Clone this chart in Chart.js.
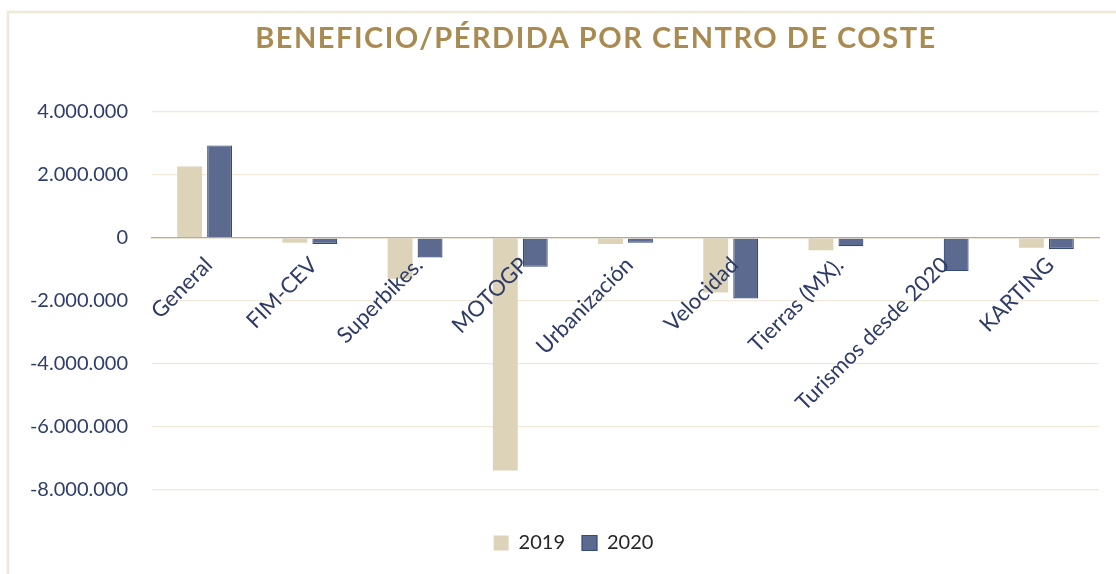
<!DOCTYPE html>
<html>
<head>
<meta charset="utf-8">
<script src="https://cdn.jsdelivr.net/npm/chart.js@4"></script>
<style>
  html, body { margin: 0; padding: 0; background: #ffffff; }
  canvas { display: block; }
</style>
</head>
<body>
<canvas id="c" width="1116" height="574"></canvas>
<script>
const categories = ['General', 'FIM-CEV', 'Superbikes.', 'MOTOGP', 'Urbanización', 'Velocidad', 'Tierras (MX).', 'Turismos desde 2020', 'KARTING'];
const seriesNames = ['2019', '2020'];
const values2019 = [2270000, -150000, -1290000, -7380000, -190000, -1730000, -390000, 0, -310000];
const values2020 = [2940000, -190000, -620000, -910000, -150000, -1920000, -260000, -1050000, -350000];
const yTicks = [-8000000, -6000000, -4000000, -2000000, 0, 2000000, 4000000];
const titleText = 'BENEFICIO/PÉRDIDA POR CENTRO DE COSTE';

function fmt(v) {
  const s = String(Math.abs(v)).replace(/\B(?=(\d{3})+(?!\d))/g, '.');
  return (v < 0 ? '-' : '') + s;
}

const frameAndTitle = {
  id: 'frameAndTitle',
  afterLayout(chart) {
    const l = chart.legend;
    if (l) {
      l.left += 20; l.right += 20;
      l.top += 26; l.bottom += 26;
    }
  },
  beforeDraw(chart) {
    const ctx = chart.ctx;
    ctx.save();
    ctx.fillStyle = '#ffffff';
    ctx.fillRect(0, 0, chart.width, chart.height);
    ctx.strokeStyle = '#efe7d8';
    ctx.lineWidth = 2.5;
    ctx.beginPath();
    ctx.moveTo(8, chart.height);
    ctx.lineTo(8, 12);
    ctx.lineTo(chart.width, 12);
    ctx.stroke();
    ctx.restore();
  },
  afterDraw(chart) {
    const ctx = chart.ctx;
    ctx.save();
    ctx.font = 'bold 29px Lato';
    ctx.fillStyle = '#a98b52';
    ctx.textAlign = 'center';
    ctx.textBaseline = 'alphabetic';
    try { ctx.letterSpacing = '1.5px'; } catch (e) {}
    ctx.fillText(titleText, 596, 48);
    ctx.restore();
  }
};

new Chart(document.getElementById('c'), {
  type: 'bar',
  data: {
    labels: categories,
    datasets: [
      {
        label: seriesNames[0],
        data: values2019,
        backgroundColor: '#ddd3b9',
        borderColor: '#ddd3b9',
        borderWidth: 0,
        categoryPercentage: 0.57,
        barPercentage: 0.83
      },
      {
        label: seriesNames[1],
        data: values2020,
        backgroundColor: '#5b6a8e',
        borderColor: '#34497d',
        borderWidth: 1.2,
        categoryPercentage: 0.57,
        barPercentage: 0.83
      }
    ]
  },
  options: {
    responsive: false,
    animation: false,
    devicePixelRatio: 1,
    layout: { padding: { top: 112, left: 8, right: 17, bottom: 37 } },
    plugins: {
      title: { display: false },
      tooltip: { enabled: false },
      legend: {
        position: 'bottom',
        labels: {
          boxWidth: 15,
          boxHeight: 15,
          padding: 17,
          color: '#262626',
          font: { family: 'Lato', size: 20 }
        }
      }
    },
    scales: {
      x: {
        position: { y: 0 },
        offset: true,
        grid: { display: false, drawTicks: false },
        border: { display: true, color: '#bfa97f', width: 1.2, z: 1 },
        ticks: {
          z: 1,
          autoSkip: false,
          minRotation: 45,
          maxRotation: 45,
          labelOffset: 4,
          padding: 14,
          color: '#2e3b66',
          font: { family: 'Lato', size: 22 }
        }
      },
      y: {
        min: -8000000,
        max: 4000000,
        afterBuildTicks(scale) { scale.ticks = yTicks.map(v => ({ value: v })); },
        afterFit(scale) { scale.width = 144; },
        grid: { color: '#f0e9dc', lineWidth: 1.2, drawTicks: false },
        border: { display: false },
        ticks: {
          padding: 24,
          color: '#2f3d6b',
          font: { family: 'Lato', size: 20 },
          callback: (v) => fmt(v)
        }
      }
    }
  },
  plugins: [frameAndTitle]
});
</script>
</body>
</html>
